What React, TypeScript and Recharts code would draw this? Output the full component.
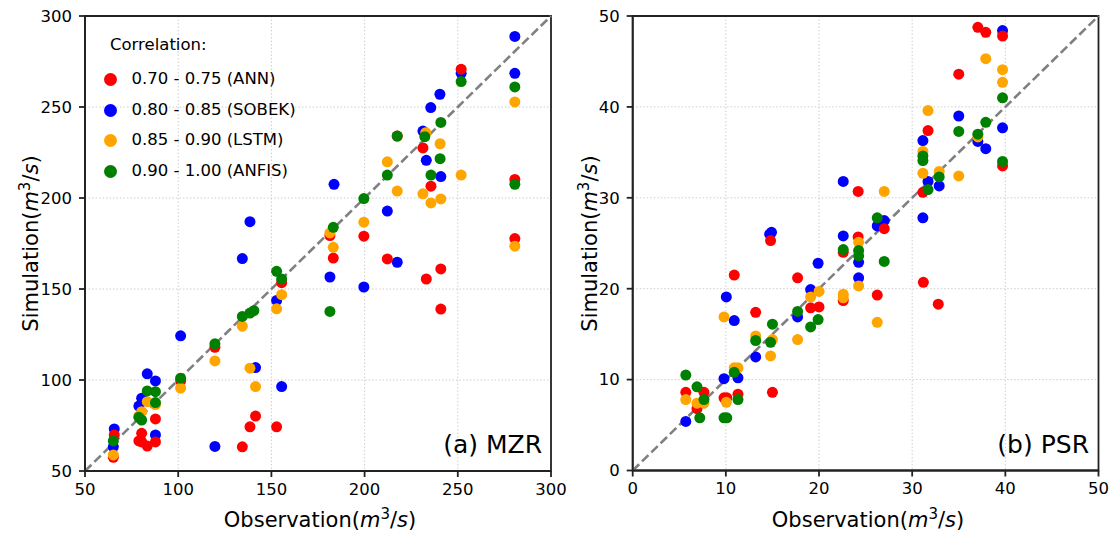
import React from "react"
import {
  ScatterChart,
  Scatter,
  XAxis,
  YAxis,
  CartesianGrid,
  ReferenceLine,
  ReferenceArea,
  Legend,
} from "recharts"

const FONT = "'DejaVu Sans', 'Liberation Sans', sans-serif"

// legend / model names
const models = ["ANN", "SOBEK", "LSTM", "ANFIS"]
const legendLabels = ["0.70 - 0.75 (ANN)", "0.80 - 0.85 (SOBEK)", "0.85 - 0.90 (LSTM)", "0.90 - 1.00 (ANFIS)"]
const colors: Record<string, string> = { ANN: "#ff0000", SOBEK: "#0000ff", LSTM: "#ffa500", ANFIS: "#008000" }
// drawing order (later = on top)
const drawOrder = ["SOBEK", "ANN", "LSTM", "ANFIS"]

const mzrTicks = [50, 100, 150, 200, 250, 300]
const psrTicks = [0, 10, 20, 30, 40, 50]

// (a) MZR  [observation, simulation]
const mzrAnn = [
  [65.7, 69.8], [65.2, 57.5], [78.9, 66.5], [80.4, 66], [83.4, 63.7], [87.8, 66], [80.4, 70.7], [87.8, 78.6],
  [101.3, 99.5], [119.7, 118], [134.4, 63.3], [138.5, 74.3], [141.5, 80.2], [152.8, 74.3], [155.5, 153.5],
  [181.4, 179.4], [183.2, 167], [199.6, 179], [212.2, 166.5], [217.5, 234], [231.3, 227.5], [233.1, 155.5],
  [235.6, 206.5], [240.9, 161], [240.9, 139], [251.8, 270.8], [280.6, 210.2], [280.6, 177.7],
]
const mzrSobek = [
  [65.7, 73.1], [65.2, 63.3], [78.9, 85.7], [80.4, 90], [83.4, 103.4], [87.8, 99.5], [87.8, 69.8], [101.3, 124.3],
  [119.7, 63.5], [134.4, 166.7], [138.5, 187], [141.5, 106.8], [152.8, 143.7], [155.5, 96.4], [181.4, 156.6],
  [183.6, 207.5], [199.6, 151.1], [212.2, 192.8], [217.5, 164.7], [231.3, 236.8], [233.1, 220.7], [235.5, 249.7],
  [240.4, 257], [240.9, 211.8], [251.8, 268.5], [280.6, 288.8], [280.6, 268.5],
]
const mzrLstm = [
  [65.2, 58.8], [78.9, 80.2], [80.4, 82.6], [83.4, 88.1], [87.8, 86.5], [101.3, 95.5], [119.7, 110.5], [134.4, 129.6],
  [138.5, 106.5], [141.5, 96.4], [152.8, 139.1], [155.5, 146.9], [181.4, 180.8], [183.2, 172.9], [199.6, 186.7],
  [212.2, 219.9], [217.5, 203.8], [231.3, 202.3], [232.8, 235.9], [235.6, 197.3], [240.5, 229.8], [240.9, 199.5],
  [251.8, 212.6], [280.6, 252.8], [280.6, 173.5],
]
const mzrAnfis = [
  [65.2, 66.5], [78.9, 79.5], [80.4, 78], [83.4, 94], [87.8, 93.6], [87.8, 87.6], [101.3, 101], [119.7, 119.9],
  [134.4, 134.9], [138.5, 136.8], [140.6, 138.1], [152.8, 159.7], [155.5, 155.5], [181.4, 137.7], [183.2, 183.9],
  [199.6, 199.7], [212.2, 212.6], [217.5, 234], [232.3, 233.7], [235.6, 212.6], [240.5, 221.6], [240.9, 241.5],
  [251.8, 264], [280.6, 261], [280.6, 207.5],
]

// (b) PSR  [observation, simulation]
const psrAnn = [
  [5.7, 8.6], [6.9, 6.8], [7.65, 8.6], [9.8, 8.0], [10.1, 8.0], [11.3, 8.4], [15, 8.6], [13.2, 17.4], [10.9, 21.5],
  [14.8, 25.3], [17.7, 21.2], [19.1, 17.9], [20, 18], [22.6, 18.7], [22.6, 24], [24.2, 30.7], [24.2, 25.7],
  [26.25, 19.3], [27, 26.6], [31.15, 30.6], [31.7, 37.4], [31.2, 20.7], [32.8, 18.3], [35, 43.6], [37.05, 48.75],
  [37.9, 48.2], [39.7, 47.8], [39.7, 33.5],
]
const psrSobek = [
  [5.7, 5.4], [9.8, 10.1], [10.05, 19.1], [10.9, 16.5], [11.3, 10.2], [13.2, 12.5], [14.9, 26.2], [14.7, 26.0],
  [17.7, 16.9], [19.1, 19.9], [19.9, 22.8], [22.6, 31.8], [22.6, 25.8], [24.25, 22.9], [24.25, 21.2], [26.25, 26.9],
  [27, 27.5], [31.15, 36.3], [31.15, 27.8], [31.7, 31.8], [32.9, 31.3], [35, 39], [37.05, 36.2], [37.9, 35.4],
  [39.7, 48.4], [39.7, 37.7],
]
const psrLstm = [
  [5.7, 7.8], [6.9, 7.4], [7.65, 7.4], [9.8, 16.9], [10.05, 7.5], [10.9, 11.3], [11.3, 11.3], [13.2, 14.8],
  [14.8, 12.6], [15, 14.4], [17.7, 14.4], [19.1, 19.1], [20, 19.7], [22.6, 19.4], [22.6, 19.0], [24.25, 25.1],
  [24.25, 20.3], [26.25, 16.3], [27, 30.7], [31.15, 35.1], [31.15, 32.7], [31.7, 39.6], [32.9, 32.9], [35, 32.4],
  [37.05, 36.7], [37.9, 45.3], [39.7, 44.1], [39.7, 42.7],
]
const psrAnfis = [
  [5.7, 10.5], [6.9, 9.2], [7.2, 5.8], [7.65, 7.8], [9.8, 5.8], [10.1, 5.8], [10.9, 10.8], [11.3, 7.8], [13.2, 14.3],
  [14.8, 14.1], [15, 16.1], [17.7, 17.5], [19.1, 15.8], [19.9, 16.6], [22.6, 24.3], [24.25, 24.2], [24.25, 23.6],
  [26.25, 27.8], [27, 23], [31.15, 34.6], [31.15, 34.1], [31.7, 30.9], [32.9, 32.3], [35, 37.3], [37.05, 37],
  [37.9, 38.3], [39.7, 41], [39.7, 34],
]

const toPoints = (arr: number[][]) => arr.map(([x, y]) => ({ x, y }))

const mzrSeries: Record<string, number[][]> = { ANN: mzrAnn, SOBEK: mzrSobek, LSTM: mzrLstm, ANFIS: mzrAnfis }
const psrSeries: Record<string, number[][]> = { ANN: psrAnn, SOBEK: psrSobek, LSTM: psrLstm, ANFIS: psrAnfis }

const UnitText = ({ label }: { label: string }) => (
  <>
    <tspan>{label}(</tspan>
    <tspan fontStyle="italic">m</tspan>
    <tspan dy={-8} fontSize={15}>3</tspan>
    <tspan dy={8}>/</tspan>
    <tspan fontStyle="italic">s</tspan>
    <tspan>)</tspan>
  </>
)

function LegendBox() {
  return (
    <div style={{ position: "absolute", left: 104, top: 35, fontFamily: FONT, fontSize: 16.5, color: "#000" }}>
      <div style={{ height: 20, lineHeight: "20px", paddingLeft: 6, whiteSpace: "nowrap" }}>Correlation:</div>
      <div style={{ height: 9 }} />
      {models.map((m, i) => (
        <div key={m} style={{ height: 30.7, lineHeight: "30.7px", display: "flex", alignItems: "center", whiteSpace: "nowrap" }}>
          <span style={{ width: 13, height: 13, borderRadius: "50%", background: colors[m], display: "inline-block" }} />
          <span style={{ marginLeft: 14.5 }}>{legendLabels[i]}</span>
        </div>
      ))}
    </div>
  )
}

interface PanelProps {
  width: number
  margin: { top: number; right: number; bottom: number; left: number }
  yAxisWidth: number
  domain: [number, number]
  ticks: number[]
  series: Record<string, number[][]>
  tag: string
  tagX: number
  xTitleX: number
  yTitleX: number
  showLegend?: boolean
}

function Panel({ width, margin, yAxisWidth, domain, ticks, series, tag, tagX, xTitleX, yTitleX, showLegend }: PanelProps) {
  const tickStyle = { fill: "#000", fontSize: 16.5, fontFamily: FONT }
  const axisStroke = { stroke: "#222", strokeWidth: 1.8 }
  return (
    <ScatterChart width={width} height={533} margin={margin}>
      <CartesianGrid stroke="#c8c8c8" strokeDasharray="1.5 2" strokeWidth={0.9} />
      <XAxis
        type="number"
        dataKey="x"
        domain={domain}
        ticks={ticks}
        allowDataOverflow
        height={35}
        tick={tickStyle}
        tickSize={6}
        tickMargin={6}
        tickLine={axisStroke}
        axisLine={axisStroke}
        label={{
          content: () => (
            <text x={xTitleX} y={527} textAnchor="middle" fontFamily={FONT} fontSize={21} fill="#000">
              <UnitText label="Observation" />
            </text>
          ),
        }}
      />
      <YAxis
        type="number"
        dataKey="y"
        domain={domain}
        ticks={ticks}
        allowDataOverflow
        width={yAxisWidth}
        tick={tickStyle}
        tickSize={6}
        tickMargin={7}
        tickLine={axisStroke}
        axisLine={axisStroke}
        label={{
          content: () => (
            <text
              x={yTitleX}
              y={243.5}
              transform={`rotate(-90, ${yTitleX}, 243.5)`}
              textAnchor="middle"
              fontFamily={FONT}
              fontSize={21}
              fill="#000"
            >
              <UnitText label="Simulation" />
            </text>
          ),
        }}
      />
      {drawOrder.map((m) => (
        <Scatter
          key={m}
          name={m}
          data={toPoints(series[m])}
          fill={colors[m]}
          isAnimationActive={false}
          shape={(p: any) => <circle cx={p.cx} cy={p.cy} r={5.5} fill={colors[m]} />}
        />
      ))}
      <ReferenceLine
        segment={[
          { x: domain[0], y: domain[0] },
          { x: domain[1], y: domain[1] },
        ]}
        stroke="#808080"
        strokeWidth={2.6}
        strokeDasharray="9 4"
      />
      <ReferenceArea
        x1={domain[0]}
        x2={domain[1]}
        y1={domain[0]}
        y2={domain[1]}
        fill="none"
        fillOpacity={0}
        stroke="#222"
        strokeWidth={1.8}
        label={{
          content: () => (
            <text x={tagX} y={453} textAnchor="end" fontFamily={FONT} fontSize={25} fill="#000">
              {tag}
            </text>
          ),
        }}
      />
      {showLegend && (
        <Legend
          layout="vertical"
          align="center"
          verticalAlign="middle"
          wrapperStyle={{ left: 0, top: 0, width: 1, height: 1 }}
          content={() => <LegendBox />}
        />
      )}
    </ScatterChart>
  )
}

export default function App() {
  return (
    <div style={{ position: "absolute", left: 0, top: 0, width: 1114, height: 533, background: "#fff" }}>
      <div style={{ position: "absolute", left: 0, top: 0 }}>
        <Panel
          width={575}
          margin={{ top: 16, right: 24, bottom: 27, left: 25 }}
          yAxisWidth={60}
          domain={[50, 300]}
          ticks={mzrTicks}
          series={mzrSeries}
          tag="(a) MZR"
          tagX={542}
          xTitleX={320}
          yTitleX={38}
          showLegend
        />
      </div>
      <div style={{ position: "absolute", left: 575, top: 0 }}>
        <Panel
          width={539}
          margin={{ top: 16, right: 15.5, bottom: 27.5, left: 7.7 }}
          yAxisWidth={50}
          domain={[0, 50]}
          ticks={psrTicks}
          series={psrSeries}
          tag="(b) PSR"
          tagX={514}
          xTitleX={293}
          yTitleX={22}
        />
      </div>
    </div>
  )
}
